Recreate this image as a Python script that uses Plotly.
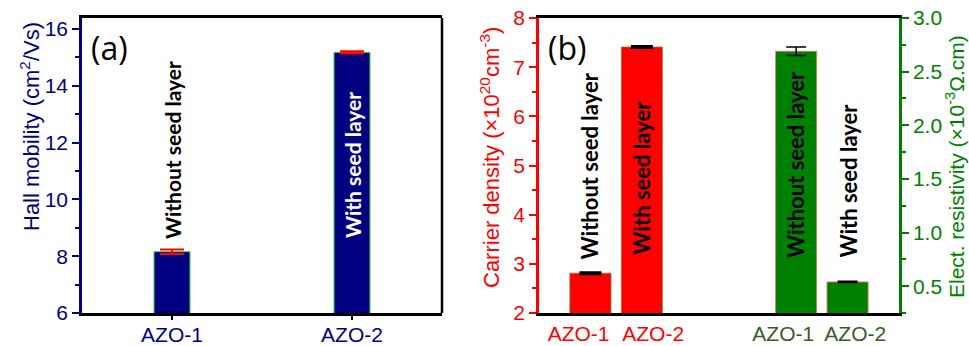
import plotly.graph_objects as go

# ---- data ----
categories = ["AZO-1", "AZO-2"]
hall_mobility = [8.16, 15.18]          # cm^2/Vs
hall_mobility_err = [0.08, 0.04]
carrier_density = [2.81, 7.41]         # x10^20 cm^-3
carrier_density_err = [0.02, 0.02]
resistivity = [2.69, 0.54]             # x10^-3 ohm.cm
resistivity_err = [0.04, 0.005]
bar_labels = ["Without seed layer", "With seed layer"]

W, H = 969, 346
NAVY = "#000080"
RED = "#ff0000"
GREEN = "#008000"
OLIVE = "#3b5a2a"
TICKFONT = "Arial, Liberation Sans, sans-serif"
LABELFONT = "Lato, sans-serif"

def px_x(p):
    return p / W

def px_y(p):
    return 1 - p / H

fig = go.Figure()

# ---- panel (a): Hall mobility ----
pos_a = [0, 1]
fig.add_trace(go.Bar(
    x=pos_a, y=hall_mobility, width=0.2,
    marker=dict(color=NAVY, line=dict(color="#33e033", width=1)),
    error_y=dict(type="data", array=hall_mobility_err, color=RED, thickness=2, width=12),
    xaxis="x", yaxis="y", showlegend=False,
))

# ---- panel (b): carrier density (left) and resistivity (right) ----
pos_b_left = [1, 2]
pos_b_right = [5, 6]
# category labels sit a little apart from the bar centres so they don't collide
label_pos_b = [0.77, 2.22, 4.75, 6.15]
fig.add_trace(go.Bar(
    x=pos_b_left, y=carrier_density, width=0.8,
    marker=dict(color=RED, line=dict(color="#8a7a3a", width=0.8)),
    error_y=dict(type="data", array=carrier_density_err, color="black", thickness=2, width=11),
    xaxis="x2", yaxis="y2", showlegend=False,
))
fig.add_trace(go.Bar(
    x=pos_b_right, y=resistivity, width=0.8,
    marker=dict(color=GREEN, line=dict(color="#e08070", width=0.8)),
    error_y=dict(type="data", array=resistivity_err, color="black", thickness=1.5, width=10),
    xaxis="x2", yaxis="y3", showlegend=False,
))

ydom = [px_y(313), px_y(18)]
axis_lw = 2.5

fig.update_layout(
    width=W, height=H,
    margin=dict(l=0, r=0, t=0, b=0, autoexpand=False),
    paper_bgcolor="white", plot_bgcolor="white",
    barmode="overlay",
    xaxis=dict(
        domain=[px_x(82), px_x(442)], anchor="y", range=[-0.5, 1.5], automargin=False,
        tickvals=pos_a, ticktext=categories, tickangle=0, ticklabelstandoff=-3,
        showline=True, linecolor="black", linewidth=axis_lw, mirror=True,
        ticks="outside", ticklen=4, tickcolor="black", tickwidth=2,
        tickfont=dict(family=TICKFONT, size=21, color=NAVY),
        showgrid=False, zeroline=False,
    ),
    yaxis=dict(
        domain=ydom, anchor="x", range=[6, 16.39], automargin=False,
        tick0=6, dtick=2,
        showline=True, linecolor=NAVY, linewidth=axis_lw,
        ticks="outside", ticklen=7, tickcolor=NAVY, tickwidth=2,
        minor=dict(ticks="outside", ticklen=4, tickcolor=NAVY, dtick=1, tickwidth=2),
        tickfont=dict(family=TICKFONT, size=21, color=NAVY),
        showgrid=False, zeroline=False,
    ),
    xaxis2=dict(
        domain=[px_x(539), px_x(899)], anchor="y2", range=[0, 7], automargin=False,
        tickvals=label_pos_b, tickangle=0,
        ticktext=[f"<span style='color:{RED}'>{c}</span>" for c in categories]
                 + [f"<span style='color:{OLIVE}'>{c}</span>" for c in categories],
        showline=True, linecolor="black", linewidth=axis_lw, mirror=True,
        ticks="", tickfont=dict(family=TICKFONT, size=21),
        showgrid=False, zeroline=False,
    ),
    yaxis2=dict(
        domain=ydom, anchor="x2", range=[2, 8], automargin=False,
        tick0=2, dtick=1,
        showline=True, linecolor=RED, linewidth=axis_lw,
        ticks="outside", ticklen=7, tickcolor=RED, tickwidth=2,
        minor=dict(ticks="outside", ticklen=4, tickcolor=RED, dtick=0.5, tickwidth=2),
        tickfont=dict(family=TICKFONT, size=21, color=RED),
        showgrid=False, zeroline=False,
    ),
    yaxis3=dict(
        domain=ydom, anchor="x2", overlaying="y2", side="right", range=[0.25, 3.0],
        automargin=False, tick0=0, dtick=0.5, tickformat=".1f",
        showline=True, linecolor=GREEN, linewidth=axis_lw,
        ticks="outside", ticklen=7, tickcolor=GREEN, tickwidth=2,
        minor=dict(ticks="outside", ticklen=4, tickcolor=GREEN, dtick=0.25, tickwidth=2),
        tickfont=dict(family=TICKFONT, size=21, color=GREEN),
        showgrid=False, zeroline=False,
    ),
)

# right-hand frame edge of panel (a)
fig.add_shape(type="line", xref="x domain", yref="y domain", x0=1, x1=1, y0=0, y1=1,
              line=dict(color="black", width=axis_lw))

annotations = [
    # axis titles
    dict(text="Hall mobility (cm<sup>2</sup>/Vs)", x=px_x(30), y=px_y(127),
         font=dict(family=TICKFONT, size=22, color=NAVY), textangle=-90),
    dict(text="Carrier density (\u00d710<sup>20</sup>cm<sup>-3</sup>)", x=px_x(490), y=px_y(158),
         font=dict(family=TICKFONT, size=22, color=RED), textangle=-90),
    dict(text="Elect. resistivity (\u00d710<sup>-3</sup>\u03a9.cm)", x=px_x(955), y=px_y(167),
         font=dict(family=TICKFONT, size=21, color=GREEN), textangle=-90),
    # panel letters
    dict(text="(a)", x=px_x(109), y=px_y(48),
         font=dict(family="Open Sans", size=32, color="black")),
    dict(text="(b)", x=px_x(567), y=px_y(48),
         font=dict(family="Open Sans", size=32, color="black")),
]
for a in annotations:
    a.update(xref="paper", yref="paper", showarrow=False,
             xanchor="center", yanchor="middle")
    fig.add_annotation(**a)

# rotated labels on the bars
bar_text = [
    ("x", "y", pos_a[0], 11.74, bar_labels[0], "black", 21),
    ("x", "y", pos_a[1], 11.21, bar_labels[1], "white", 21),
    ("x2", "y2", pos_b_left[0], 4.99, bar_labels[0], "black", 22),
    ("x2", "y2", pos_b_left[1], 4.75, bar_labels[1], "black", 22),
    ("x2", "y3", pos_b_right[0], 1.63, bar_labels[0], "black", 22),
    ("x2", "y3", pos_b_right[1], 1.48, bar_labels[1], "black", 22),
]
for xr, yr, xv, yv, txt, col, sz in bar_text:
    fig.add_annotation(text=f"<b>{txt}</b>", x=xv, y=yv, xref=xr, yref=yr, textangle=-90,
                       showarrow=False, xanchor="center", yanchor="middle",
                       font=dict(family=LABELFONT, size=sz, color=col))

fig.write_html("out.html")
